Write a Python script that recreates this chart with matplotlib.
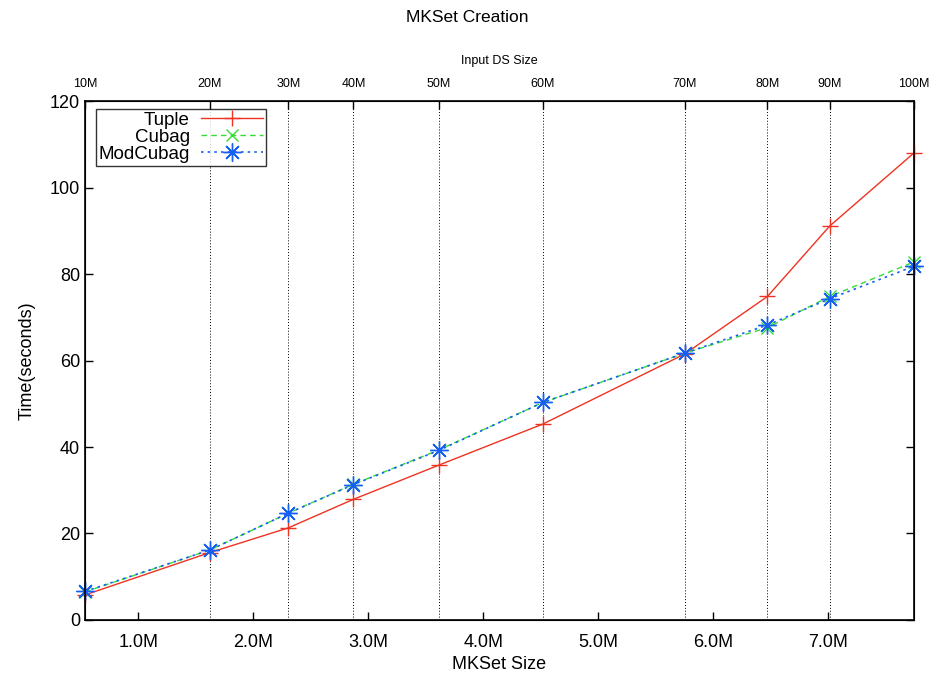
# MKSet creation time vs. MKSet size
import matplotlib
matplotlib.use('Agg')
import matplotlib.pyplot as plt

plt.rcParams['font.family'] = ['Liberation Sans', 'DejaVu Sans']

# MKSet size (millions) for each input data-set size
mkset_size = [0.536, 1.623, 2.304, 2.87, 3.612, 4.517, 5.751, 6.47, 7.012, 7.745]
input_ds = ['10M', '20M', '30M', '40M', '50M', '60M', '70M', '80M', '90M', '100M']

# times in seconds
tuple_t = [5.8, 15.6, 21.3, 27.9, 35.8, 45.3, 61.5, 74.8, 91.1, 108.0]
cubag_t = [6.5, 16.2, 24.7, 31.4, 39.3, 50.3, 61.7, 67.6, 74.8, 82.8]
modcubag_t = [6.6, 16.2, 24.7, 31.3, 39.2, 50.3, 61.7, 68.2, 74.3, 81.8]

xticks = [1, 2, 3, 4, 5, 6, 7]
xtick_labels = ['1.0M', '2.0M', '3.0M', '4.0M', '5.0M', '6.0M', '7.0M']
yticks = [0, 20, 40, 60, 80, 100, 120]

fig = plt.figure(figsize=(9.34, 6.77), dpi=100)
ax = fig.add_axes([0.091, 0.0842, 0.8876, 0.7666])

ax.plot(mkset_size, tuple_t, color='#ee3322', lw=1.0, ls='-', clip_on=False,
        marker='+', markersize=11, markeredgewidth=1.0, label='Tuple')
ax.plot(mkset_size, cubag_t, color='#33dd33', lw=1.0, ls=(0, (4, 3)), clip_on=False,
        marker='x', markersize=9, markeredgewidth=1.0, label='Cubag')
ax.plot(mkset_size, modcubag_t, color='#1560f0', lw=1.2, ls=(0, (1.5, 2.5)), clip_on=False,
        marker=(8, 2, 0), markersize=13, markeredgewidth=1.0, label='ModCubag')

ax.set_xlim(mkset_size[0], mkset_size[-1])
ax.set_ylim(0, 120)
ax.set_xticks(xticks)
ax.set_xticklabels(xtick_labels)
ax.set_yticks(yticks)
ax.tick_params(axis='both', direction='in', length=6, width=1.0, labelsize=13)
ax.tick_params(axis='y', right=True)
ax.tick_params(axis='x', pad=10)
for s in ax.spines.values():
    s.set_linewidth(1.2)

ax.set_xlabel('MKSet Size', fontsize=13, labelpad=4)
ax.set_ylabel('Time(seconds)', fontsize=13, labelpad=10)

# top axis: input data-set size at each point, with dotted grid
ax2 = ax.twiny()
ax2.set_xlim(ax.get_xlim())
ax2.set_xticks(mkset_size)
ax2.set_xticklabels(input_ds)
ax2.tick_params(axis='x', direction='in', length=6, width=1.0, labelsize=9, pad=8)
ax2.grid(True, axis='x', color='black', ls=(0, (1, 2)), lw=0.7)
ax2.set_xlabel('Input DS Size', fontsize=9, labelpad=10)
ax2.set_zorder(0)
ax.set_zorder(1)
ax.patch.set_visible(False)

leg = ax.legend(loc='upper left', bbox_to_anchor=(0.013, 0.985), markerfirst=False,
                fontsize=13.5, frameon=True, fancybox=False, edgecolor='black',
                handlelength=3.3, handletextpad=0.6, borderpad=0.15,
                labelspacing=0.0, borderaxespad=0)
leg.get_frame().set_linewidth(1.0)

fig.suptitle('MKSet Creation', y=0.985, fontsize=12.5)

fig.savefig('out.png', dpi=100)
